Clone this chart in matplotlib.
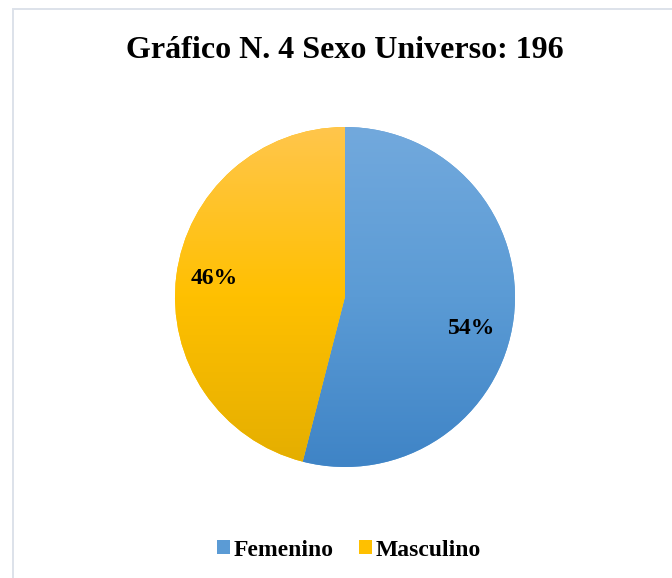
import numpy as np
import matplotlib.pyplot as plt
from matplotlib.colors import LinearSegmentedColormap

# Data
labels = ['Femenino', 'Masculino']
values = [54, 46]
title = 'Gráfico N. 4 Sexo Universo: 196'

# colour gradients (top, middle, bottom), like the Office style fill
grad_colors = [('#72a9dd', '#5b9bd5', '#3f84c6'), ('#ffc64c', '#ffc000', '#e4ae00')]
mid_colors = ['#5b9bd5', '#ffc000']

plt.rcParams['font.family'] = ['Liberation Serif', 'DejaVu Serif']

W, H = 672, 578
fig = plt.figure(figsize=(W / 100, H / 100), dpi=100)
ax = fig.add_axes([0, 0, 1, 1])

cx, cy, r = 345, H - 297, 170
wedges, texts, autotexts = ax.pie(values, colors=mid_colors, startangle=90,
                                  counterclock=False, center=(cx, cy), radius=r,
                                  autopct='%d%%', pctdistance=0.76,
                                  textprops=dict(fontsize=17, fontweight='bold'))

# gradient fill clipped to each wedge
for w, cols in zip(wedges, grad_colors):
    cmap = LinearSegmentedColormap.from_list('g', cols[::-1])
    grad = np.linspace(0, 1, 256).reshape(-1, 1)
    im = ax.imshow(grad, cmap=cmap, origin='lower', aspect='auto',
                   extent=(cx - r, cx + r, cy - r, cy + r), zorder=w.get_zorder())
    im.set_clip_path(w)

# label placement (best fit, as in the original)
label_offsets = [(127, -31), (-131, 19)]
for t, (dx, dy) in zip(autotexts, label_offsets):
    t.set_position((cx + dx, cy + dy))
    t.set_zorder(5)

ax.set_xlim(0, W)
ax.set_ylim(0, H)
ax.set_aspect('auto')
ax.axis('off')

# chart border
ax.plot([12.5, 12.5, W + 5], [-5, H - 8.5, H - 8.5], color='#dde2ea', lw=1.4,
        clip_on=False, solid_joinstyle='miter')

fig.text(345 / W, 1 - 58 / H, title, ha='center', va='baseline',
         fontsize=23, fontweight='bold')

leg = fig.legend(wedges, labels, loc='center', bbox_to_anchor=(349 / W, 1 - 550 / H),
                 ncol=2, frameon=False, prop=dict(size=17, weight='bold'),
                 handlelength=0.55, handleheight=0.55, handletextpad=0.17,
                 columnspacing=1.05, borderaxespad=0)

fig.savefig('out.png', dpi=100, facecolor='white')
